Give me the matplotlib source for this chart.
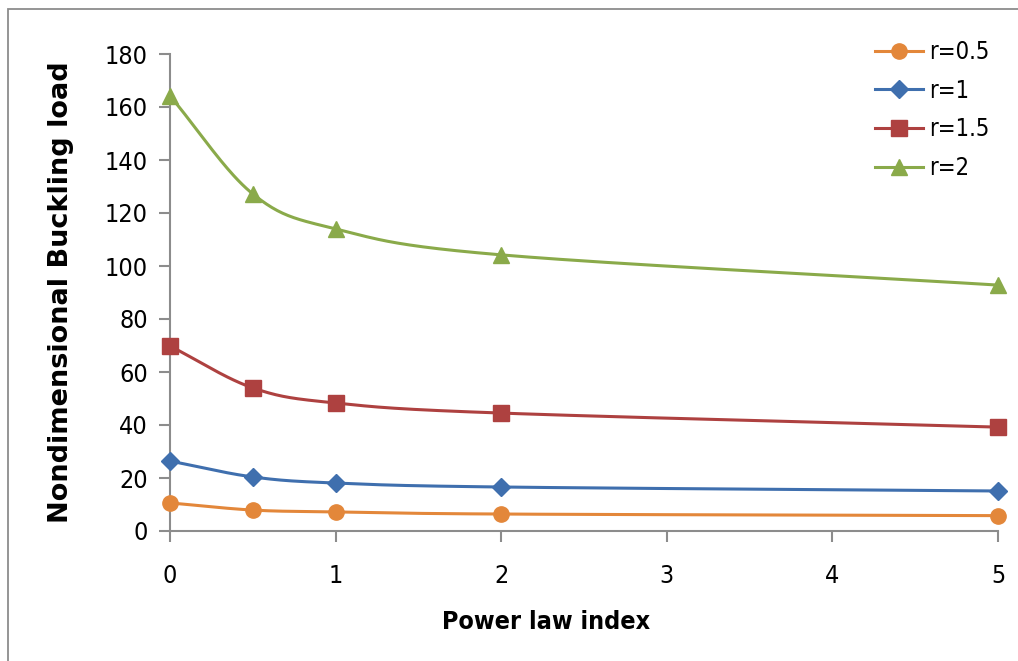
import numpy as np
import matplotlib
matplotlib.use('Agg')
import matplotlib.pyplot as plt
from matplotlib.patches import Rectangle

# Power law index values and buckling loads for each r
power_index = [0, 0.5, 1, 2, 5]
load_r05 = [10.6, 7.9, 7.2, 6.4, 5.8]
load_r1 = [26.4, 20.4, 18.1, 16.6, 15.1]
load_r15 = [69.8, 54.0, 48.3, 44.5, 39.2]
load_r2 = [164.2, 127.2, 114.0, 104.2, 92.8]

series = [
    ("r=0.5", load_r05, "#E3873A", "o", 11),
    ("r=1", load_r1, "#3F6FAE", "D", 9),
    ("r=1.5", load_r15, "#AE4140", "s", 11),
    ("r=2", load_r2, "#8AAA4A", "^", 11),
]


def smooth(xs, ys, n=40):
    # Catmull-Rom curve through the points, like a spreadsheet smoothed line
    xs = np.asarray(xs, float)
    ys = np.asarray(ys, float)
    px = np.concatenate([[2 * xs[0] - xs[1]], xs, [2 * xs[-1] - xs[-2]]])
    py = np.concatenate([[2 * ys[0] - ys[1]], ys, [2 * ys[-1] - ys[-2]]])
    out_x, out_y = [], []
    t = np.linspace(0, 1, n)
    for i in range(1, len(px) - 2):
        for p, out in ((px, out_x), (py, out_y)):
            p0, p1, p2, p3 = p[i - 1], p[i], p[i + 1], p[i + 2]
            seg = 0.5 * ((2 * p1) + (-p0 + p2) * t +
                         (2 * p0 - 5 * p1 + 4 * p2 - p3) * t ** 2 +
                         (-p0 + 3 * p1 - 3 * p2 + p3) * t ** 3)
            out.extend(seg)
    return np.array(out_x), np.array(out_y)


W, H = 1018, 661
fig = plt.figure(figsize=(W / 100, H / 100), dpi=100)
# chart area border (runs off the right and bottom edges)
fig.patches.append(Rectangle((8 / W, -0.1), 1.2, 1 - 9 / H + 0.1,
                             transform=fig.transFigure, fill=False,
                             edgecolor='#8C8C8C', linewidth=1.3))
ax = fig.add_axes([170 / W, 1 - 531 / H, 828 / W, 477 / H])

for label, vals, color, marker, ms in series:
    sx, sy = smooth(power_index, vals)
    ax.plot(sx, sy, color=color, linewidth=2.2, zorder=2)
    ax.plot(power_index, vals, linestyle='none', marker=marker, color=color,
            markersize=ms, zorder=3, clip_on=False)
    ax.plot([], [], color=color, linewidth=2.2, marker=marker,
            markersize=ms, label=label)

ax.set_xlim(0, 5)
ax.set_ylim(0, 180)
ax.set_xticks(range(0, 6))
ax.set_yticks(range(0, 181, 20))

for side in ('top', 'right'):
    ax.spines[side].set_visible(False)
for side in ('left', 'bottom'):
    ax.spines[side].set_color('#8C8C8C')
    ax.spines[side].set_linewidth(1.5)
ax.tick_params(axis='both', direction='out', length=8, width=1.5,
               color='#8C8C8C', labelsize=18)
ax.tick_params(axis='x', pad=16)
ax.tick_params(axis='y', pad=8)
for lbl in ax.get_xticklabels() + ax.get_yticklabels():
    lbl.set_family('DejaVu Sans')
    lbl.set_stretch('condensed')

ax.set_xlabel("Power law index", fontsize=18, fontweight='bold',
              family='DejaVu Sans', fontstretch='condensed')
ax.xaxis.set_label_coords((546 - 170) / 828, -(622 - 531) / 477)
ax.xaxis.label.set_va('center')
ax.set_ylabel("Nondimensional Buckling load", fontsize=19.5, fontweight='bold',
              family='DejaVu Sans')
ax.yaxis.set_label_coords(-(170 - 61) / 828, 0.5)
ax.yaxis.label.set_va('center')

leg = ax.legend(loc='upper left', bbox_to_anchor=(875 / W, 1 - 40 / H),
                bbox_transform=fig.transFigure, frameon=False,
                prop={'family': 'DejaVu Sans', 'stretch': 'condensed',
                      'size': 17},
                handlelength=2.05, handletextpad=0.25, labelspacing=0.62,
                borderpad=0, borderaxespad=0)

fig.savefig("out.png", dpi=100)
